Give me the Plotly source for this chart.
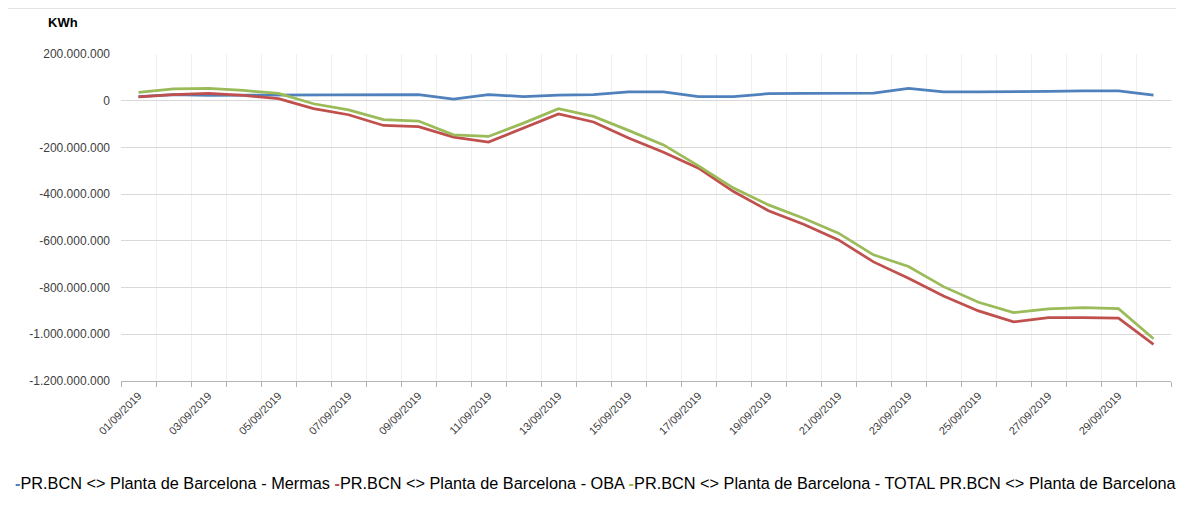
import plotly.graph_objects as go

dates = ["01/09/2019", "02/09/2019", "03/09/2019", "04/09/2019", "05/09/2019",
         "06/09/2019", "07/09/2019", "08/09/2019", "09/09/2019", "10/09/2019",
         "11/09/2019", "12/09/2019", "13/09/2019", "14/09/2019", "15/09/2019",
         "16/09/2019", "17/09/2019", "18/09/2019", "19/09/2019", "20/09/2019",
         "21/09/2019", "22/09/2019", "23/09/2019", "24/09/2019", "25/09/2019",
         "26/09/2019", "27/09/2019", "28/09/2019", "29/09/2019", "30/09/2019"]

# values in millions of kWh
mermas_m = [18, 26, 23, 23, 23, 23, 24, 24, 26, 7, 26, 18, 24, 26, 38,
            38, 18, 18, 30, 31, 33, 33, 53, 38, 38, 38, 40, 42, 42, 24]
oba_m = [16, 26, 31, 23, 9, -34, -60, -106, -111, -156, -177, -117, -57, -91, -160,
         -221, -289, -389, -471, -529, -596, -690, -760, -836, -900, -947, -929, -929, -931, -1043]
total_m = [36, 51, 53, 44, 31, -13, -39, -81, -87, -146, -153, -96, -34, -67, -127,
           -189, -279, -374, -446, -503, -567, -660, -710, -796, -863, -907, -891, -886, -890, -1019]

series_names = ["PR.BCN <> Planta de Barcelona - Mermas",
                "PR.BCN <> Planta de Barcelona - OBA",
                "PR.BCN <> Planta de Barcelona - TOTAL PR.BCN <> Planta de Barcelona"]
series_colors = ["#4F81BD", "#C0504D", "#9BBB59"]

y_tickvals = [200e6, 0, -200e6, -400e6, -600e6, -800e6, -1000e6, -1200e6]
y_ticktext = ["200.000.000", "0", "-200.000.000", "-400.000.000", "-600.000.000",
              "-800.000.000", "-1.000.000.000", "-1.200.000.000"]

FONT = "Liberation Sans, Arial, sans-serif"

x_idx = list(range(len(dates)))
fig = go.Figure()
for name, vals, col in zip(series_names, [mermas_m, oba_m, total_m], series_colors):
    fig.add_trace(go.Scatter(
        x=x_idx, y=[v * 1e6 for v in vals], mode="lines", name=name,
        line=dict(color=col, width=2.75), showlegend=False,
    ))

# page body has an 8px margin, so margins are shifted to keep the plot area in place
fig.update_layout(
    width=1184, height=513,
    margin=dict(l=113, r=21, t=46, b=140),
    paper_bgcolor="white", plot_bgcolor="white",
    font=dict(family=FONT, color="#404040"),
)

fig.update_xaxes(
    range=[-0.5, len(dates) - 0.5],
    tickmode="array",
    tickvals=x_idx[::2], ticktext=dates[::2],
    tickangle=-45, tickfont=dict(size=11, color="#404040"),
    ticks="", showgrid=False, zeroline=False,
    showline=True, linecolor="#b4b4b4", linewidth=1,
    ticklabelstandoff=3,
    minor=dict(tick0=-0.5, dtick=1, ticks="outside", ticklen=5,
               tickcolor="#b4b4b4", showgrid=True, gridcolor="#f0f0f0", gridwidth=1),
)
fig.update_yaxes(
    range=[-1200e6, 200e6],
    tickmode="array", tickvals=y_tickvals, ticktext=y_ticktext,
    tickfont=dict(size=12, color="#404040"),
    showgrid=True, gridcolor="#d9d9d9", gridwidth=1,
    zeroline=False, showline=False, ticks="",
    ticklabelstandoff=10,
)

# chart border
fig.add_shape(type="rect", xref="paper", yref="paper",
              x0=(7 - 121) / 1050, x1=(1180 - 121) / 1050,
              y0=-0.45, y1=(381 - 8) / 327,
              line=dict(color="#c8c8c8", width=1.2), layer="below")

# axis title
fig.add_annotation(text="<b>KWh</b>", xref="paper", yref="paper",
                   x=(46 - 121) / 1050, y=(381 - 23) / 327,
                   xanchor="left", yanchor="middle", showarrow=False,
                   font=dict(size=13, color="#000000", family=FONT))

# legend row
legend_html = "".join(
    f"<span style='color:{c}'><b>-</b></span>{n} " for n, c in zip(series_names, series_colors)
).strip()
fig.add_annotation(text=legend_html, xref="paper", yref="paper",
                   x=(13 - 121) / 1050, y=(381 - 483) / 327,
                   xanchor="left", yanchor="middle", showarrow=False,
                   font=dict(size=16.3, color="#000000", family=FONT))

fig.write_html("out.html")
